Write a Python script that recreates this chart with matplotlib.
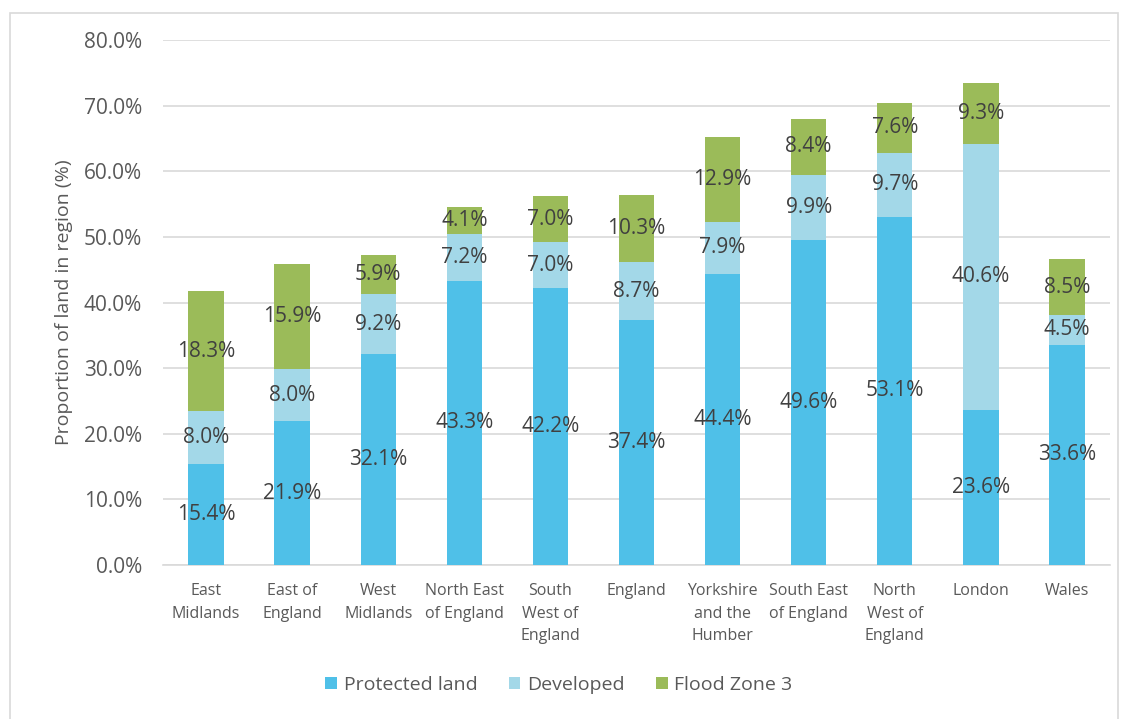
import numpy as np
import matplotlib
matplotlib.use("Agg")
import matplotlib.pyplot as plt
from matplotlib.patches import Rectangle

# Share of land by region, stacked: protected land, developed, flood zone 3
regions = ["East\nMidlands", "East of\nEngland", "West\nMidlands", "North East\nof England",
           "South\nWest of\nEngland", "England", "Yorkshire\nand the\nHumber",
           "South East\nof England", "North\nWest of\nEngland", "London", "Wales"]
protected = [15.4, 21.9, 32.1, 43.3, 42.2, 37.4, 44.4, 49.6, 53.1, 23.6, 33.6]
developed = [8.0, 8.0, 9.2, 7.2, 7.0, 8.7, 7.9, 9.9, 9.7, 40.6, 4.5]
flood = [18.3, 15.9, 5.9, 4.1, 7.0, 10.3, 12.9, 8.4, 7.6, 9.3, 8.5]

series = [("Protected land", protected, "#4fc0e8"),
          ("Developed", developed, "#a3d8e8"),
          ("Flood Zone 3", flood, "#9bbb59")]

text_col = "#595959"
plt.rcParams["font.family"] = ["Open Sans", "DejaVu Sans"]

fig = plt.figure(figsize=(11.27, 7.19), dpi=100)
ax = fig.add_axes([163 / 1127, 1 - 565 / 719, (1110 - 163) / 1127, 525 / 719])

# light frame around the whole chart area
fig.patches.append(Rectangle((10 / 1127, -0.05), 1108 / 1127, 1.05 - 13 / 719,
                             transform=fig.transFigure, fill=False,
                             edgecolor="#d9d9d9", linewidth=1.2))

x = np.arange(len(regions))
bottom = np.zeros(len(regions))
for name, vals, col in series:
    vals = np.array(vals)
    ax.bar(x, vals, 0.41, bottom=bottom, color=col, label=name, zorder=3)
    for xi, b, v in zip(x, bottom, vals):
        ax.text(xi, b + v / 2, f"{v:.1f}%", ha="center", va="center",
                fontsize=15, color="#404040", zorder=4)
    bottom += vals

ax.set_xlim(-0.5, len(regions) - 0.5)
ax.set_ylim(0, 80)
ax.set_yticks(np.arange(0, 81, 10))
ax.set_yticklabels([f"{t:.1f}%" for t in np.arange(0, 81, 10)], fontsize=15, color=text_col)
ax.set_xticks(x)
ax.set_xticklabels(regions, fontsize=11.5, color=text_col, linespacing=1.55)
ax.tick_params(axis="y", length=0, pad=15)
ax.tick_params(axis="x", length=0, pad=13)
ax.grid(axis="y", color="#d9d9d9", linewidth=1.2, zorder=0)
for s in ["top", "right", "left"]:
    ax.spines[s].set_visible(False)
ax.spines["bottom"].set_color("#d9d9d9")
ax.spines["bottom"].set_linewidth(1.2)

ax.set_ylabel("Proportion of land in region (%)", fontsize=14, color=text_col, labelpad=8)

fig.legend(loc="center", bbox_to_anchor=(559 / 1127, 1 - 685 / 719), ncol=3,
           frameon=False, fontsize=14, handlelength=0.6, handleheight=0.6,
           handletextpad=0.35, columnspacing=1.6, labelcolor=text_col)

fig.savefig("out.png", dpi=100)
